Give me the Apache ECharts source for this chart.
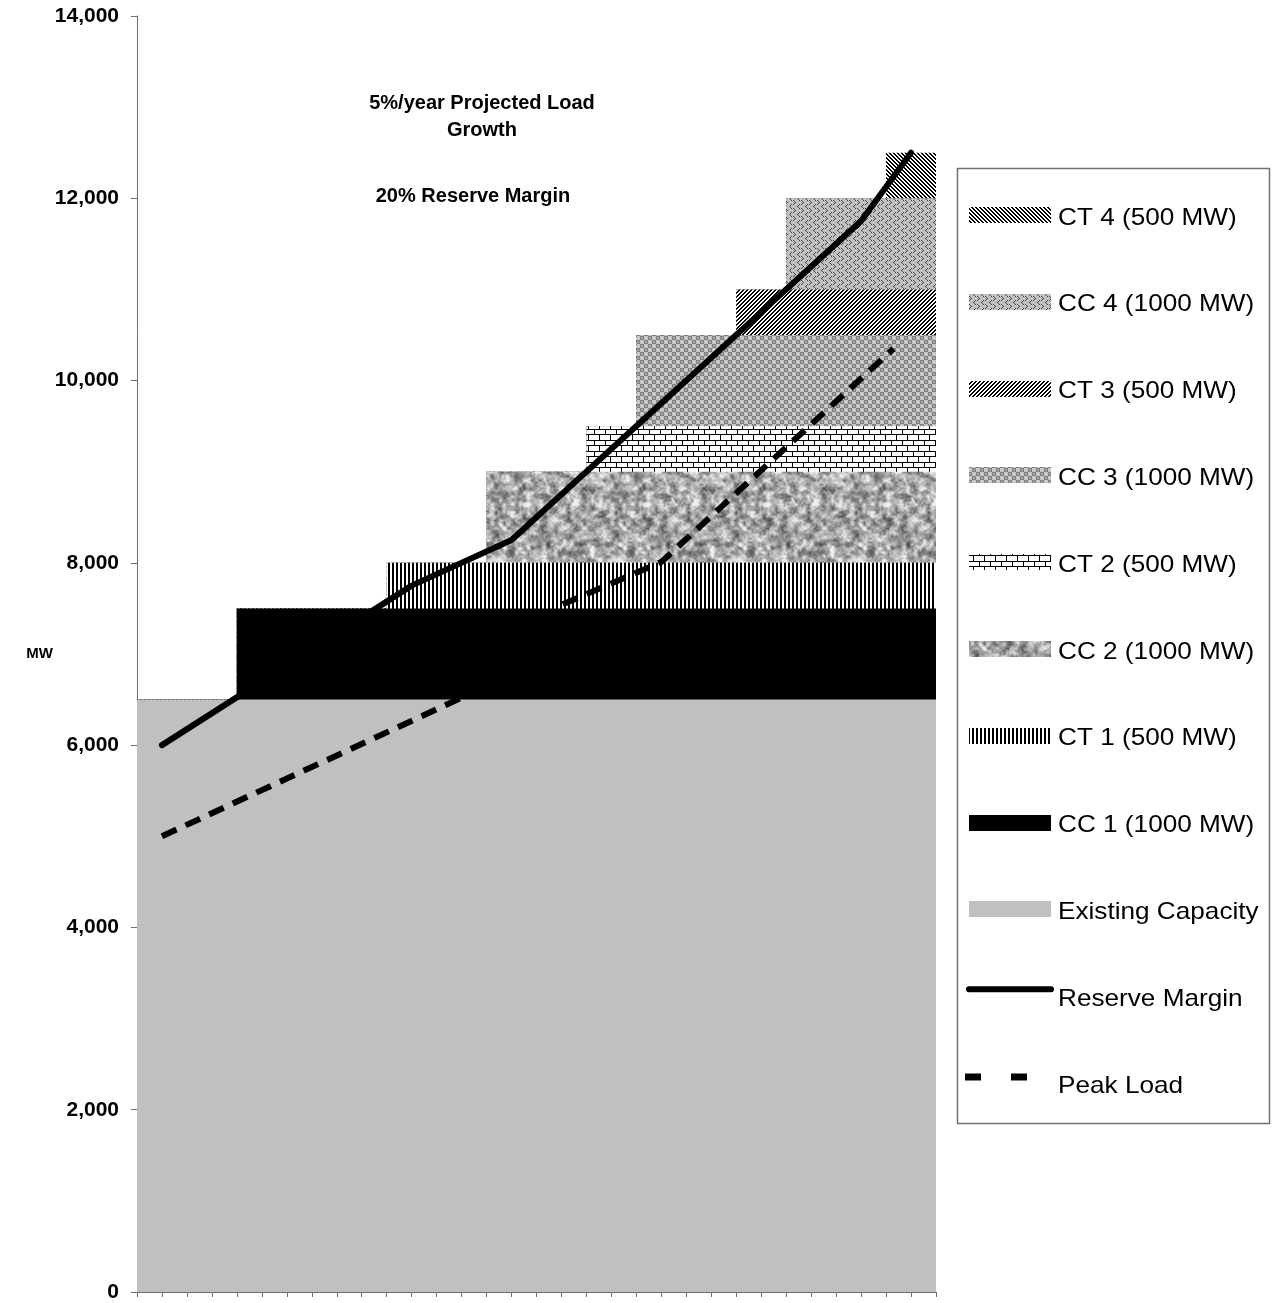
<!DOCTYPE html>
<html>
<head>
<meta charset="utf-8">
<title>Capacity Expansion Plan</title>
<script src="https://cdn.jsdelivr.net/npm/echarts@6/dist/echarts.min.js"></script>
<style>
  html, body { margin: 0; padding: 0; background: #ffffff; }
  #chart { width: 1272px; height: 1303px; }
</style>
</head>
<body>
<div id="chart"></div>
<script>
// ---- Data -----------------------------------------------------------
// Planning years (index 0 = first year of the study)
const years = [0, 1, 2, 3, 4, 5, 6, 7, 8, 9, 10, 11, 12, 13, 14, 15];

// Installed capacity before any additions (MW)
const existingCapacity = [6500, 6500, 6500, 6500, 6500, 6500, 6500, 6500,
                          6500, 6500, 6500, 6500, 6500, 6500, 6500, 6500];

// New units, in the order they come on line
const unitNames = ['CC 1 (1000 MW)', 'CT 1 (500 MW)', 'CC 2 (1000 MW)', 'CT 2 (500 MW)',
                   'CC 3 (1000 MW)', 'CT 3 (500 MW)', 'CC 4 (1000 MW)', 'CT 4 (500 MW)'];
const unitSizesMW = [1000, 500, 1000, 500, 1000, 500, 1000, 500];
const unitOnlineYear = [2, 5, 7, 9, 10, 12, 13, 15];

// Load curves (year, MW)
const reserveMarginYears = [0, 5, 7, 14, 15];
const reserveMarginMW = [6000, 7750, 8250, 11750, 12500];
const peakLoadYears = [0, 6, 8, 10, 14.65];
const peakLoadMW = [5000, 6520, 7540, 8010, 10350];

// Value axis
const yMin = 0, yMax = 14000, yStep = 2000;

// ---- Fill patterns ----------------------------------------------------
function tile(w, h, paint) {
  const c = document.createElement('canvas');
  c.width = w; c.height = h;
  const ctx = c.getContext('2d');
  paint(ctx, w, h);
  return c;
}
function pattern(canvas) { return { image: canvas, repeat: 'repeat' }; }
function dots(ctx, color, list) {
  ctx.fillStyle = color;
  list.forEach(([x, y]) => ctx.fillRect(x, y, 1, 1));
}

// deterministic generator for the granite texture
function mulberry32(a) {
  return function () {
    a |= 0; a = a + 0x6D2B79F5 | 0;
    let t = Math.imul(a ^ a >>> 15, 1 | a);
    t = t + Math.imul(t ^ t >>> 7, 61 | t) ^ t;
    return ((t ^ t >>> 14) >>> 0) / 4294967296;
  };
}

const fills = {};
fills.existing = '#c0c0c0';
fills.cc1 = '#000000';
// vertical stripes
fills.ct1 = pattern(tile(4, 4, (ctx) => {
  ctx.fillStyle = '#fff'; ctx.fillRect(0, 0, 4, 4);
  ctx.fillStyle = '#000'; ctx.fillRect(0, 0, 2, 4);
}));
// granite
fills.cc2 = pattern(tile(120, 120, (ctx, w, h) => {
  const rnd = mulberry32(20240611);
  const layer = (cell) => {
    const n = w / cell, g = [];
    for (let i = 0; i < n * n; i++) g.push(rnd());
    return (x, y) => {
      const fx = x / cell, fy = y / cell;
      const x0 = Math.floor(fx), y0 = Math.floor(fy);
      const tx = fx - x0, ty = fy - y0;
      const sx = tx * tx * (3 - 2 * tx), sy = ty * ty * (3 - 2 * ty);
      const at = (i, j) => g[((j % n + n) % n) * n + ((i % n + n) % n)];
      const a = at(x0, y0) * (1 - sx) + at(x0 + 1, y0) * sx;
      const b = at(x0, y0 + 1) * (1 - sx) + at(x0 + 1, y0 + 1) * sx;
      return a * (1 - sy) + b * sy;
    };
  };
  const big = layer(8), mid = layer(4), small = layer(2);
  const img = ctx.createImageData(w, h);
  for (let y = 0; y < h; y++) {
    for (let x = 0; x < w; x++) {
      const v = 0.35 * big(x, y) + 0.4 * mid(x, y) + 0.25 * small(x, y);
      let gray = 172 + (v - 0.5) * 250;
      gray = Math.max(60, Math.min(238, gray));
      const k = (y * w + x) * 4;
      img.data[k] = img.data[k + 1] = img.data[k + 2] = gray;
      img.data[k + 3] = 255;
    }
  }
  ctx.putImageData(img, 0, 0);
}));
// brick
fills.ct2 = pattern(tile(11, 11, (ctx) => {
  ctx.fillStyle = '#fff'; ctx.fillRect(0, 0, 11, 11);
  ctx.fillStyle = '#000';
  ctx.fillRect(0, 0, 11, 1);
  ctx.fillRect(0, 5, 11, 1);
  ctx.fillRect(0, 1, 1, 4);
  ctx.fillRect(5, 6, 1, 5);
}));
// grey checker
fills.cc3 = pattern(tile(8, 8, (ctx) => {
  ctx.fillStyle = '#c4c4c4'; ctx.fillRect(0, 0, 8, 8);
  ctx.fillStyle = '#828282';
  ctx.fillRect(0, 0, 4, 4); ctx.fillRect(4, 4, 4, 4);
  ctx.fillStyle = '#a2a2a2';
  ctx.fillRect(1, 1, 2, 2); ctx.fillRect(5, 5, 2, 2);
  ctx.fillStyle = '#d8d8d8';
  ctx.fillRect(5, 1, 2, 1); ctx.fillRect(1, 5, 2, 1);
}));
// forward diagonal
fills.ct3 = pattern(tile(4, 4, (ctx) => {
  for (let y = 0; y < 4; y++) for (let x = 0; x < 4; x++) {
    ctx.fillStyle = ((x + y) % 4) < 2 ? '#000' : '#fff';
    ctx.fillRect(x, y, 1, 1);
  }
}));
// chevrons on grey
fills.cc4 = pattern(tile(8, 8, (ctx) => {
  ctx.fillStyle = '#c0c0c0'; ctx.fillRect(0, 0, 8, 8);
  dots(ctx, '#4a4a4a', [[1, 0], [2, 1], [3, 2], [2, 3], [1, 4]]);
  dots(ctx, '#4a4a4a', [[7, 4], [6, 5], [5, 6], [6, 7], [7, 0]]);
}));
// backward diagonal
fills.ct4 = pattern(tile(4, 4, (ctx) => {
  for (let y = 0; y < 4; y++) for (let x = 0; x < 4; x++) {
    ctx.fillStyle = (((x - y) % 4 + 4) % 4) < 2 ? '#000' : '#fff';
    ctx.fillRect(x, y, 1, 1);
  }
}));
const unitFills = [fills.cc1, fills.ct1, fills.cc2, fills.ct2, fills.cc3, fills.ct3, fills.cc4, fills.ct4];

// ---- Series -----------------------------------------------------------
// cumulative top of each layer per year
const cumulative = unitNames.map((_, k) => years.map((y, i) => {
  let total = existingCapacity[i];
  for (let j = 0; j <= k; j++) if (y >= unitOnlineYear[j]) total += unitSizesMW[j];
  return total;
}));

// each year occupies the band [year - 0.5, year + 0.5]
function bandPoints(values) {
  const pts = years.map((y, i) => [y - 0.5, values[i]]);
  pts.push([years[years.length - 1] + 0.5, values[values.length - 1]]);
  return pts;
}
function areaSeries(name, values, fill) {
  return {
    name, type: 'line', step: 'end', data: bandPoints(values),
    symbol: 'none', silent: true,
    lineStyle: { width: 0, opacity: 0 },
    itemStyle: { color: '#000' },
    areaStyle: { color: fill, opacity: 1 },
    z: 1
  };
}

const series = [];
// upper layers first so each lower layer paints over the part below
for (let k = unitNames.length - 1; k >= 0; k--) {
  series.push(areaSeries(unitNames[k], cumulative[k], unitFills[k]));
}
series.push(areaSeries('Existing Capacity', existingCapacity, fills.existing));
series.push({
  name: 'Peak Load', type: 'line', symbol: 'none', silent: true, z: 3,
  data: peakLoadYears.map((y, i) => [y, peakLoadMW[i]]),
  lineStyle: { color: '#000', width: 6, type: [16, 10], cap: 'butt' }
});
series.push({
  name: 'Reserve Margin', type: 'line', symbol: 'none', silent: true, z: 4,
  data: reserveMarginYears.map((y, i) => [y, reserveMarginMW[i]]),
  lineStyle: { color: '#000', width: 6, cap: 'round', join: 'round' }
});

// ---- Legend (spreadsheet-style box) ------------------------------------
const legendItems = [
  { name: unitNames[7], fill: fills.ct4 },
  { name: unitNames[6], fill: fills.cc4 },
  { name: unitNames[5], fill: fills.ct3 },
  { name: unitNames[4], fill: fills.cc3 },
  { name: unitNames[3], fill: fills.ct2 },
  { name: unitNames[2], fill: fills.cc2 },
  { name: unitNames[1], fill: fills.ct1 },
  { name: unitNames[0], fill: fills.cc1 },
  { name: 'Existing Capacity', fill: fills.existing },
  { name: 'Reserve Margin', kind: 'solid' },
  { name: 'Peak Load', kind: 'dash' }
];
const LG = { x: 957, y: 168, w: 312, h: 955, swX: 969, swW: 82, textX: 1058, firstY: 218, step: 86.8 };
const legendGraphics = [{
  type: 'rect', shape: { x: LG.x + 0.5, y: LG.y + 0.5, width: LG.w, height: LG.h },
  style: { fill: '#fff', stroke: '#707070', lineWidth: 1.5 }, z: 10
}];
legendItems.forEach((it, i) => {
  const cy = LG.firstY + LG.step * i;
  if (it.kind === 'solid') {
    legendGraphics.push({
      type: 'line', shape: { x1: LG.swX, y1: cy - 10, x2: LG.swX + LG.swW, y2: cy - 10 },
      style: { stroke: '#000', lineWidth: 6, lineCap: 'round' }, z: 11
    });
  } else if (it.kind === 'dash') {
    legendGraphics.push({ type: 'rect', shape: { x: 965, y: cy - 12.5, width: 16, height: 7 }, style: { fill: '#000' }, z: 11 });
    legendGraphics.push({ type: 'rect', shape: { x: 1011, y: cy - 12.5, width: 16, height: 7 }, style: { fill: '#000' }, z: 11 });
  } else {
    legendGraphics.push({
      type: 'rect', shape: { x: LG.swX, y: Math.round(cy - 11), width: LG.swW, height: 16 },
      style: { fill: it.fill }, z: 11
    });
  }
  legendGraphics.push({
    type: 'text', x: LG.textX, y: cy, scaleX: 1.09, z: 11,
    style: { text: it.name, font: '24px "Liberation Sans", Arial, Helvetica, sans-serif',
             fill: '#000', align: 'left', verticalAlign: 'middle' }
  });
});

// ---- Chart --------------------------------------------------------------
const chart = echarts.init(document.getElementById('chart'), null, { renderer: 'canvas' });
chart.setOption({
  animation: false,
  backgroundColor: '#ffffff',
  title: [
    {
      text: '5%/year Projected Load\nGrowth', left: 482, top: 90, textAlign: 'center', padding: 0,
      textStyle: { fontFamily: 'Liberation Sans', fontSize: 20, fontWeight: 'bold', color: '#000', lineHeight: 27 }
    },
    {
      text: '20% Reserve Margin', left: 473, top: 183, textAlign: 'center', padding: 0,
      textStyle: { fontFamily: 'Liberation Sans', fontSize: 20, fontWeight: 'bold', color: '#000', lineHeight: 27 }
    }
  ],
  grid: { left: 137, right: 336, top: 16, bottom: 11, containLabel: false },
  xAxis: {
    type: 'value', min: -0.5, max: 15.5, interval: 0.5,
    axisLine: { onZero: false, lineStyle: { color: '#6e6e6e', width: 1 } },
    axisTick: { show: true, length: 5, inside: false, lineStyle: { color: '#6e6e6e' } },
    axisLabel: { show: false },
    splitLine: { show: false }
  },
  yAxis: {
    type: 'value', min: yMin, max: yMax, interval: yStep,
    name: 'MW', nameLocation: 'middle', nameRotate: 0, nameGap: 84, nameMoveOverlap: false,
    nameTextStyle: { fontFamily: 'Liberation Sans', fontSize: 15, fontWeight: 'bold', color: '#000' },
    axisLine: { show: true, onZero: false, lineStyle: { color: '#6e6e6e', width: 1 } },
    axisTick: { show: true, length: 6, inside: false, lineStyle: { color: '#6e6e6e' } },
    axisLabel: {
      margin: 18, color: '#000', fontSize: 21, fontWeight: 'bold',
      fontFamily: 'Liberation Sans',
      formatter: (v) => v.toLocaleString('en-US')
    },
    splitLine: { show: false }
  },
  graphic: legendGraphics,
  series
});
</script>
</body>
</html>
